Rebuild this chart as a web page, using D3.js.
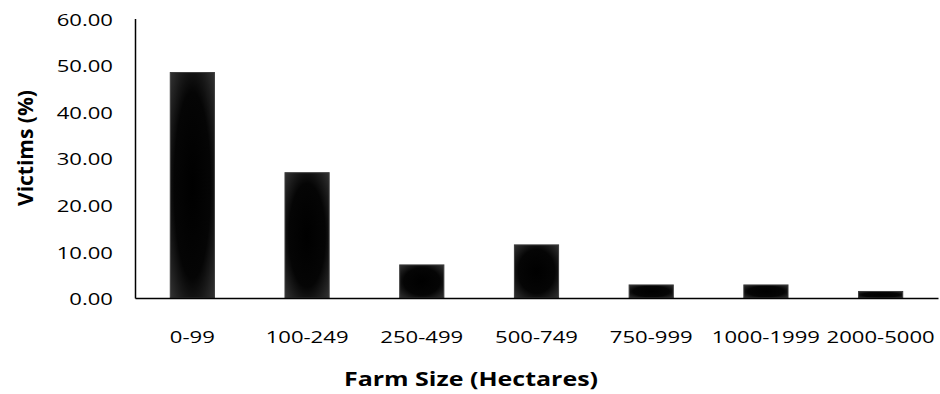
<!DOCTYPE html>
<html>
<head>
<meta charset="utf-8">
<script src="https://cdn.jsdelivr.net/npm/d3@7"></script>
<style>
  html, body { margin: 0; padding: 0; background: #fff; }
  svg { display: block; }
  text { font-family: "Open Sans", sans-serif; fill: #000; }
</style>
</head>
<body>
<svg id="chart" width="940" height="394"></svg>
<script>
const categories = ["0-99", "100-249", "250-499", "500-749", "750-999", "1000-1999", "2000-5000"];
const victims = [48.4, 26.9, 7.1, 11.4, 2.8, 2.8, 1.4];
const yTicks = [0, 10, 20, 30, 40, 50, 60];

const svg = d3.select("#chart");
const plot = { left: 135, right: 938, top: 18.5, bottom: 298 };
const stretch = 1.3;   // wide lettering

const x = d3.scaleBand()
  .domain(categories)
  .range([plot.left, plot.right])
  .paddingInner(0.615)
  .paddingOuter(0.3075);

const y = d3.scaleLinear()
  .domain([0, 60])
  .range([plot.bottom, plot.top]);

// Bar shading: dark core fading to a charcoal rim
const defs = svg.append("defs");
const grad = defs.append("radialGradient")
  .attr("id", "barShade")
  .attr("cx", "50%").attr("cy", "50%").attr("r", "75%");
grad.append("stop").attr("offset", "0%").attr("stop-color", "#000");
grad.append("stop").attr("offset", "55%").attr("stop-color", "#050505");
grad.append("stop").attr("offset", "100%").attr("stop-color", "#3a3a3a");

svg.append("g")
  .selectAll("rect")
  .data(categories)
  .join("rect")
  .attr("x", d => x(d))
  .attr("width", x.bandwidth())
  .attr("y", (d, i) => y(victims[i]))
  .attr("height", (d, i) => y(0) - y(victims[i]))
  .attr("fill", "url(#barShade)")
  .attr("stroke", "#3c3c3c")
  .attr("stroke-width", 1);

// Y axis: line plus tick labels
const yAxis = svg.append("g")
  .attr("transform", `translate(${plot.left},0)`)
  .call(d3.axisLeft(y).tickValues(yTicks).tickSize(0).tickPadding(0)
    .tickFormat(d => d3.format(".2f")(d)));
yAxis.select(".domain").attr("stroke", "#000").attr("stroke-width", 1.5);
yAxis.selectAll(".tick text")
  .style("font-size", "17px")
  .attr("x", null)
  .attr("dy", "0.36em")
  .attr("transform", `translate(-22,0.5) scale(${stretch},1)`);

// X axis: line plus category labels
const xAxis = svg.append("g")
  .attr("transform", `translate(0,${y(0)})`)
  .call(d3.axisBottom(x).tickSize(0).tickPadding(0));
xAxis.select(".domain").attr("stroke", "#000").attr("stroke-width", 1.5);
xAxis.selectAll(".tick text")
  .style("font-size", "17px")
  .attr("y", null)
  .attr("dy", null)
  .attr("transform", `translate(0,45) scale(${stretch},1)`);

// Axis titles
svg.append("text")
  .attr("transform", `translate(471,386) scale(1.25,1)`)
  .attr("text-anchor", "middle")
  .style("font-size", "20px")
  .style("font-weight", "bold")
  .text("Farm Size (Hectares)");

svg.append("text")
  .attr("transform", `translate(33,148) scale(1.05,1) rotate(-90)`)
  .attr("text-anchor", "middle")
  .style("font-size", "21px")
  .style("font-weight", "bold")
  .text("Victims (%)");
</script>
</body>
</html>
